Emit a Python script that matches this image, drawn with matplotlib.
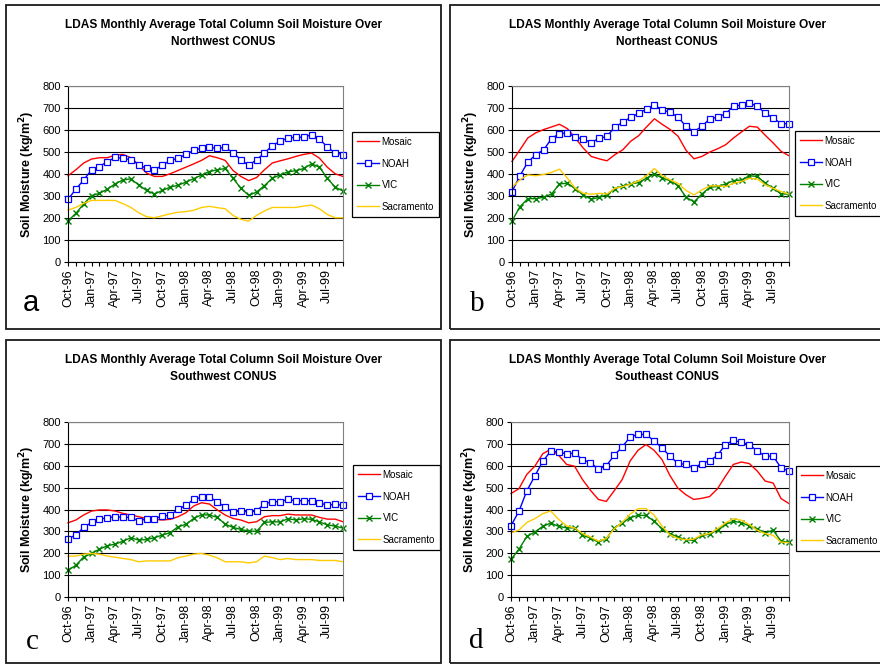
import matplotlib
matplotlib.use("Agg")
import matplotlib.pyplot as plt
from matplotlib.patches import Rectangle
import numpy as np

plt.rcParams['font.family'] = ['Liberation Sans', 'DejaVu Sans']

# monthly values, Oct-96 .. Sep-99 (kg/m^2)
tick_labels = ['Oct-96', 'Jan-97', 'Apr-97', 'Jul-97', 'Oct-97', 'Jan-98',
               'Apr-98', 'Jul-98', 'Oct-98', 'Jan-99', 'Apr-99', 'Jul-99']
series_names = ['Mosaic', 'NOAH', 'VIC', 'Sacramento']

nw_mosaic = [392, 419, 450, 468, 474, 474, 486, 489, 474, 442, 404, 389,
             389, 401, 416, 431, 446, 462, 483, 474, 462, 416, 389, 370,
             384, 419, 450, 460, 469, 480, 489, 495, 472, 431, 401, 389]
nw_noah = [285, 331, 373, 419, 434, 456, 475, 471, 465, 443, 425, 419,
           439, 462, 471, 489, 507, 518, 521, 517, 521, 497, 465, 439,
           465, 495, 529, 549, 564, 567, 567, 579, 559, 523, 495, 488]
nw_vic = [187, 221, 264, 302, 312, 331, 355, 373, 378, 350, 325, 309,
          325, 340, 349, 363, 379, 395, 411, 419, 425, 381, 335, 303,
          318, 347, 381, 396, 410, 415, 425, 446, 431, 381, 340, 323]
nw_sac = [236, 248, 267, 280, 280, 280, 280, 265, 248, 224, 206, 201,
          210, 219, 226, 229, 235, 248, 253, 247, 242, 212, 194, 186,
          212, 232, 248, 248, 248, 248, 254, 259, 242, 216, 201, 201]

ne_mosaic = [457, 510, 564, 587, 602, 614, 626, 606, 564, 518, 480, 469,
             460, 488, 510, 549, 574, 614, 651, 625, 602, 571, 507, 469,
             480, 500, 515, 533, 564, 591, 617, 613, 576, 541, 503, 483]
ne_noah = [320, 392, 454, 488, 510, 561, 584, 587, 567, 559, 543, 562,
           571, 614, 635, 658, 675, 696, 713, 692, 680, 658, 616, 593,
           617, 651, 658, 674, 709, 713, 721, 709, 675, 655, 629, 629]
ne_vic = [187, 251, 288, 288, 294, 309, 355, 358, 334, 305, 285, 294,
          305, 334, 346, 355, 361, 381, 401, 381, 370, 346, 294, 273,
          309, 340, 343, 355, 370, 373, 392, 389, 358, 335, 309, 309]
ne_sac = [340, 373, 396, 392, 398, 407, 422, 381, 335, 312, 308, 312,
          309, 335, 343, 354, 369, 392, 425, 392, 373, 358, 325, 305,
          328, 346, 346, 343, 358, 366, 381, 377, 351, 335, 320, 309]

sw_mosaic = [339, 352, 375, 393, 398, 398, 393, 382, 375, 367, 359, 355,
             352, 355, 367, 385, 416, 431, 425, 398, 375, 359, 352, 339,
             344, 367, 372, 372, 379, 375, 375, 375, 364, 356, 356, 344]
sw_noah = [266, 284, 318, 341, 356, 362, 367, 364, 364, 347, 358, 358,
           370, 373, 401, 419, 446, 456, 456, 436, 410, 388, 394, 388,
           394, 425, 436, 436, 446, 440, 440, 440, 431, 419, 424, 419]
sw_vic = [122, 145, 183, 199, 219, 234, 242, 255, 271, 260, 263, 271,
          283, 294, 321, 332, 359, 376, 375, 364, 333, 318, 309, 301,
          300, 341, 344, 343, 358, 352, 358, 355, 343, 330, 324, 315]
sw_sac = [187, 187, 196, 199, 196, 187, 182, 176, 171, 161, 165, 165,
          165, 165, 180, 187, 196, 199, 191, 179, 161, 161, 161, 156,
          161, 187, 180, 171, 176, 171, 171, 171, 167, 167, 167, 161]

se_mosaic = [473, 495, 561, 598, 655, 675, 648, 606, 598, 537, 488, 446,
             437, 486, 537, 622, 671, 697, 671, 629, 556, 498, 468, 446,
             451, 459, 495, 552, 606, 617, 610, 576, 530, 521, 450, 427]
se_noah = [326, 392, 486, 553, 620, 667, 663, 654, 658, 628, 614, 585,
           600, 648, 686, 732, 743, 743, 714, 682, 644, 611, 606, 590,
           610, 622, 648, 697, 716, 707, 697, 667, 644, 644, 590, 576]
se_vic = [172, 218, 277, 297, 323, 338, 323, 316, 316, 282, 270, 251,
          267, 316, 338, 363, 373, 373, 347, 312, 290, 274, 262, 259,
          282, 287, 308, 332, 346, 340, 325, 311, 293, 305, 255, 251]
se_sac = [293, 306, 341, 358, 381, 393, 355, 325, 316, 290, 274, 255,
          267, 312, 341, 379, 404, 404, 375, 325, 284, 268, 262, 264,
          284, 290, 312, 338, 358, 351, 331, 305, 290, 282, 251, 248]

W, H = 880, 665
fig = plt.figure(figsize=(W / 100, H / 100), dpi=100)


def fx(px):
    return px / W


def fy(py):
    return 1 - py / H


def panel(box, axrect, legpos, title2, letter, letter_font, data):
    # outer frame of the panel
    bx0, by0, bx1, by1 = box
    fig.add_artist(Rectangle((fx(bx0), fy(by1)), (bx1 - bx0) / W, (by1 - by0) / H,
                             transform=fig.transFigure, fill=False,
                             edgecolor='#1a1a1a', lw=1.3))
    cx = bx0 + 217
    fig.text(fx(cx), fy(by0 + 20), 'LDAS Monthly Average Total Column Soil Moisture Over',
             ha='center', va='center', fontsize=8.6, fontweight='bold')
    fig.text(fx(cx), fy(by0 + 37), title2,
             ha='center', va='center', fontsize=8.6, fontweight='bold')

    l, t, r, b = axrect
    ax = fig.add_axes([fx(l), fy(b), (r - l) / W, (b - t) / H])
    x = np.arange(36)
    mosaic, noah, vic, sac = data
    ax.plot(x, mosaic, color='#ff0000', lw=1.0, label=series_names[0], clip_on=False)
    ax.plot(x, noah, color='#0000ff', lw=1.0, marker='s', ms=4.5, mfc='white',
            mec='#0000ff', mew=0.9, label=series_names[1], clip_on=False)
    ax.plot(x, vic, color='#008000', lw=1.0, marker='x', ms=5, mew=1.0,
            label=series_names[2], clip_on=False)
    ax.plot(x, sac, color='#ffcc00', lw=1.0, label=series_names[3], clip_on=False)

    ax.set_xlim(0, 35)
    ax.set_ylim(0, 800)
    ax.set_yticks(np.arange(0, 801, 100))
    ax.tick_params(axis='y', labelsize=8, length=3, width=0.8, pad=2)
    ax.set_xticks(np.arange(0, 36, 3))
    ax.set_xticklabels(tick_labels, rotation=90, fontsize=9)
    ax.set_xticks(np.arange(36), minor=True)
    ax.tick_params(axis='x', which='both', length=3, width=0.8, pad=2)
    ax.yaxis.grid(True, color='black', lw=0.8)
    ax.set_axisbelow(True)
    for side in ('top', 'right'):
        ax.spines[side].set_color('#808080')
    for sp in ax.spines.values():
        sp.set_linewidth(0.8)
    ax.set_ylabel('Soil Moisture (kg/m$^\\mathbf{2}$)', fontsize=9, fontweight='bold',
                  labelpad=4)

    leg = ax.legend(loc='upper left', bbox_to_anchor=(fx(legpos[0]), fy(legpos[1])),
                    bbox_transform=fig.transFigure, borderaxespad=0, fontsize=7,
                    frameon=True, fancybox=False, edgecolor='black', framealpha=1,
                    handlelength=2.3, handletextpad=0.25, labelspacing=1.2,
                    borderpad=0.5)
    leg.get_frame().set_linewidth(0.9)

    fig.text(fx(letter[0]), fy(letter[1]), letter[2], ha='center', va='baseline',
             fontsize=21, family=letter_font)
    return ax


panel((6, 5, 440.5, 329), (68, 86, 343, 262), (352, 132), 'Northwest CONUS',
      (31, 311, 'a'), ['Liberation Sans'], (nw_mosaic, nw_noah, nw_vic, nw_sac))
panel((450, 5, 890, 329), (512, 86, 789, 262), (795, 131), 'Northeast CONUS',
      (477, 311, 'b'), ['Liberation Serif'], (ne_mosaic, ne_noah, ne_vic, ne_sac))
panel((6, 340, 440.5, 663), (68, 422, 343, 597), (353, 465), 'Southwest CONUS',
      (32, 649, 'c'), ['Liberation Serif'], (sw_mosaic, sw_noah, sw_vic, sw_sac))
panel((450, 340, 890, 663), (511, 422, 789, 597), (796, 466), 'Southeast CONUS',
      (476, 648, 'd'), ['Liberation Serif'], (se_mosaic, se_noah, se_vic, se_sac))

fig.savefig('out.png', dpi=100)
